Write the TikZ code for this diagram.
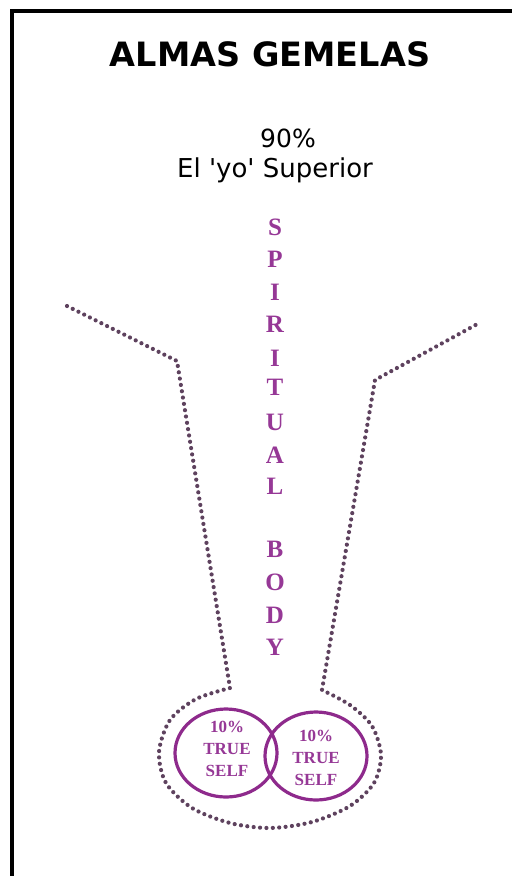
\documentclass[tikz,border=0pt]{standalone}
\usepackage{fontspec}
\setmainfont{Liberation Serif}
\newfontfamily\sansfnt{DejaVu Sans}
\usetikzlibrary{shapes.geometric}
\definecolor{circcol}{HTML}{8E2A8C}
\definecolor{lettcol}{HTML}{963896}
\definecolor{dotcol}{HTML}{5E425E}
\tikzset{
  frameline/.style={line width=4pt, black},
  dotline/.style={dotcol, line width=4.2pt, line cap=round, dash pattern=on 0pt off 6.4pt},
  letter/.style={anchor=base, text=lettcol, font=\fontsize{25}{25}\selectfont\bfseries, inner sep=0pt},
  ring/.style={ellipse, draw=circcol, line width=3.2pt, minimum width=102pt, minimum height=88pt, inner sep=0pt},
  ringtext/.style={text=lettcol, align=center, font=\fontsize{17}{22}\selectfont\bfseries, inner sep=0pt}
}
\begin{document}
\begin{tikzpicture}[x=1pt,y=-1pt]
\useasboundingbox[fill=white] (0,0) rectangle (512,876);
% frame
\coordinate (fr1) at (12,876);
\coordinate (fr2) at (12,11.3);
\coordinate (fr3) at (512,11.3);
\draw[frameline] (fr1) -- (fr2) -- (fr3);
% titles
\node[anchor=base, font=\sansfnt\bfseries\fontsize{33.5}{33}\selectfont, inner sep=0pt] (title) at (270,66) {ALMAS GEMELAS};
\node[anchor=base, font=\sansfnt\fontsize{25}{25}\selectfont, inner sep=0pt] (pct) at (288,147) {90\%};
\node[anchor=base, font=\sansfnt\fontsize{26}{26}\selectfont, inner sep=0pt] (yo) at (275,177) {El 'yo' Superior};
% vertical letters
\node[letter] (l1) at (275,235) {S};
\node[letter] (l2) at (275,267.5) {P};
\node[letter] (l3) at (275,300) {I};
\node[letter] (l4) at (275,332.5) {R};
\node[letter] (l5) at (275,366) {I};
\node[letter] (l6) at (275,395) {T};
\node[letter] (l7) at (275,430) {U};
\node[letter] (l8) at (275,463) {A};
\node[letter] (l9) at (275,494) {L};
\node[letter] (b1) at (275,557) {B};
\node[letter] (b2) at (275,590) {O};
\node[letter] (b3) at (275,623) {D};
\node[letter] (b4) at (275,655) {Y};
% dotted outline
\coordinate (a1) at (67,306);
\coordinate (a2) at (177,361);
\coordinate (a3) at (230,688);
\coordinate (c3) at (322,690);
\coordinate (c2) at (375,380);
\coordinate (c1) at (481,322);
\draw[dotline] (a1) -- (a2) -- (a3)
  -- plot[smooth] coordinates {(230,688) (196,699) (170,720) (159,752) (166,783) (192,808) (230,823) (270,828) (312,822) (350,806) (374,783) (381,755) (372,726) (350,705) (322,690)}
  -- (c2) -- (c1);
% rings
\node[ring] (r1) at (226,753) {};
\node[ring] (r2) at (316,756) {};
\node[ringtext] (t1) at (227,749) {10\%\\TRUE\\SELF};
\node[ringtext] (t2) at (316,758) {10\%\\TRUE\\SELF};
\end{tikzpicture}
\end{document}
